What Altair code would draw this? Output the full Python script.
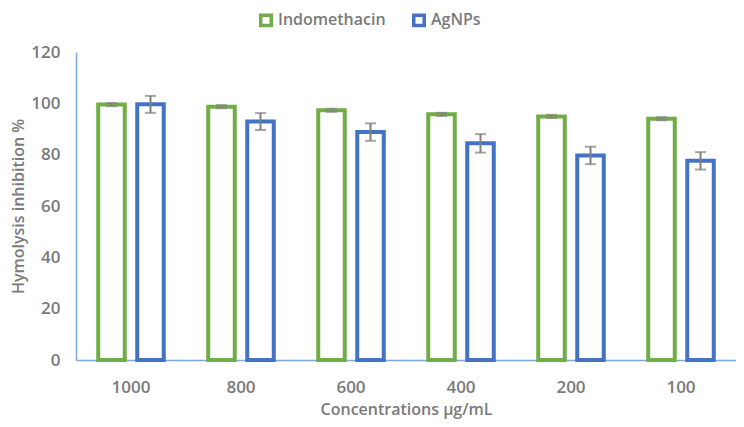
import altair as alt
import pandas as pd

concentrations = ["1000", "800", "600", "400", "200", "100"]
series_names = ["Indomethacin", "AgNPs"]
indomethacin = [99.5, 98.7, 97.3, 95.7, 94.9, 94.0]
indomethacin_err = [0.6, 0.6, 0.6, 0.6, 0.6, 0.6]
agnps = [99.6, 92.9, 88.8, 84.4, 79.7, 77.6]
agnps_err = [3.3, 3.3, 3.4, 3.6, 3.4, 3.4]
colors = ["#70ad47", "#4472c4"]

rows = []
for i, c in enumerate(concentrations):
    rows.append({"conc": c, "series": "Indomethacin", "value": indomethacin[i], "err": indomethacin_err[i]})
    rows.append({"conc": c, "series": "AgNPs", "value": agnps[i], "err": agnps_err[i]})
df = pd.DataFrame(rows)
df["lo"] = df["value"] - df["err"]
df["hi"] = df["value"] + df["err"]

FONT = "Open Sans"
TXT = "#7a7a7a"
AXIS = "#7fa9dc"

x = alt.X("conc:N", sort=concentrations,
          scale=alt.Scale(paddingInner=0, paddingOuter=0),
          axis=alt.Axis(title="Concentrations µg/mL", labelAngle=0, ticks=False,
                        labelPadding=19, titlePadding=6, domainColor=AXIS,
                        domainWidth=1.5))
xoff = alt.XOffset("series:N", sort=series_names,
                   scale=alt.Scale(paddingInner=0.32, paddingOuter=0.57))

base = alt.Chart(df)

bars = base.mark_bar(fill="white", strokeWidth=4).encode(
    x=x,
    xOffset=xoff,
    y=alt.Y("value:Q", scale=alt.Scale(domain=[0, 120]),
            axis=alt.Axis(title="Hymolysis inhibition %", values=[0, 20, 40, 60, 80, 100, 120],
                          grid=False, ticks=False, labelPadding=16, titlePadding=4,
                          domainColor=AXIS, domainWidth=1.5)),
    stroke=alt.Stroke("series:N", sort=series_names,
                      scale=alt.Scale(domain=series_names, range=colors),
                      legend=alt.Legend(title=None, orient="none", direction="horizontal",
                                        legendX=182, legendY=-40, symbolType="square",
                                        symbolFillColor="white", symbolStrokeWidth=3.5,
                                        symbolSize=110, columnPadding=20, labelFontSize=16,
                                        labelFont=FONT, labelColor=TXT, labelFontWeight=600)),
)

rules = base.mark_rule(color="#808080", strokeWidth=2).encode(
    x=alt.X("conc:N", sort=concentrations),
    xOffset=xoff,
    y="lo:Q",
    y2="hi:Q",
)
caps_hi = base.mark_tick(color="#808080", thickness=2, size=11).encode(
    x=alt.X("conc:N", sort=concentrations),
    xOffset=xoff,
    y="hi:Q",
)
caps_lo = base.mark_tick(color="#808080", thickness=2, size=11).encode(
    x=alt.X("conc:N", sort=concentrations),
    xOffset=xoff,
    y="lo:Q",
)

chart = alt.layer(bars, rules, caps_hi, caps_lo).properties(
    width=660, height=308,
    autosize=alt.AutoSizeParams(type="none"),
    padding={"left": 68, "top": 44, "right": 0, "bottom": 66},
).configure_view(stroke=None).configure_axis(
    labelFont=FONT, labelFontSize=17, labelColor=TXT, labelFontWeight=600,
    titleFont=FONT, titleFontSize=16, titleColor=TXT, titleFontWeight=600,
)

chart.save("out.html", embed_options={"renderer": "svg", "actions": False})
